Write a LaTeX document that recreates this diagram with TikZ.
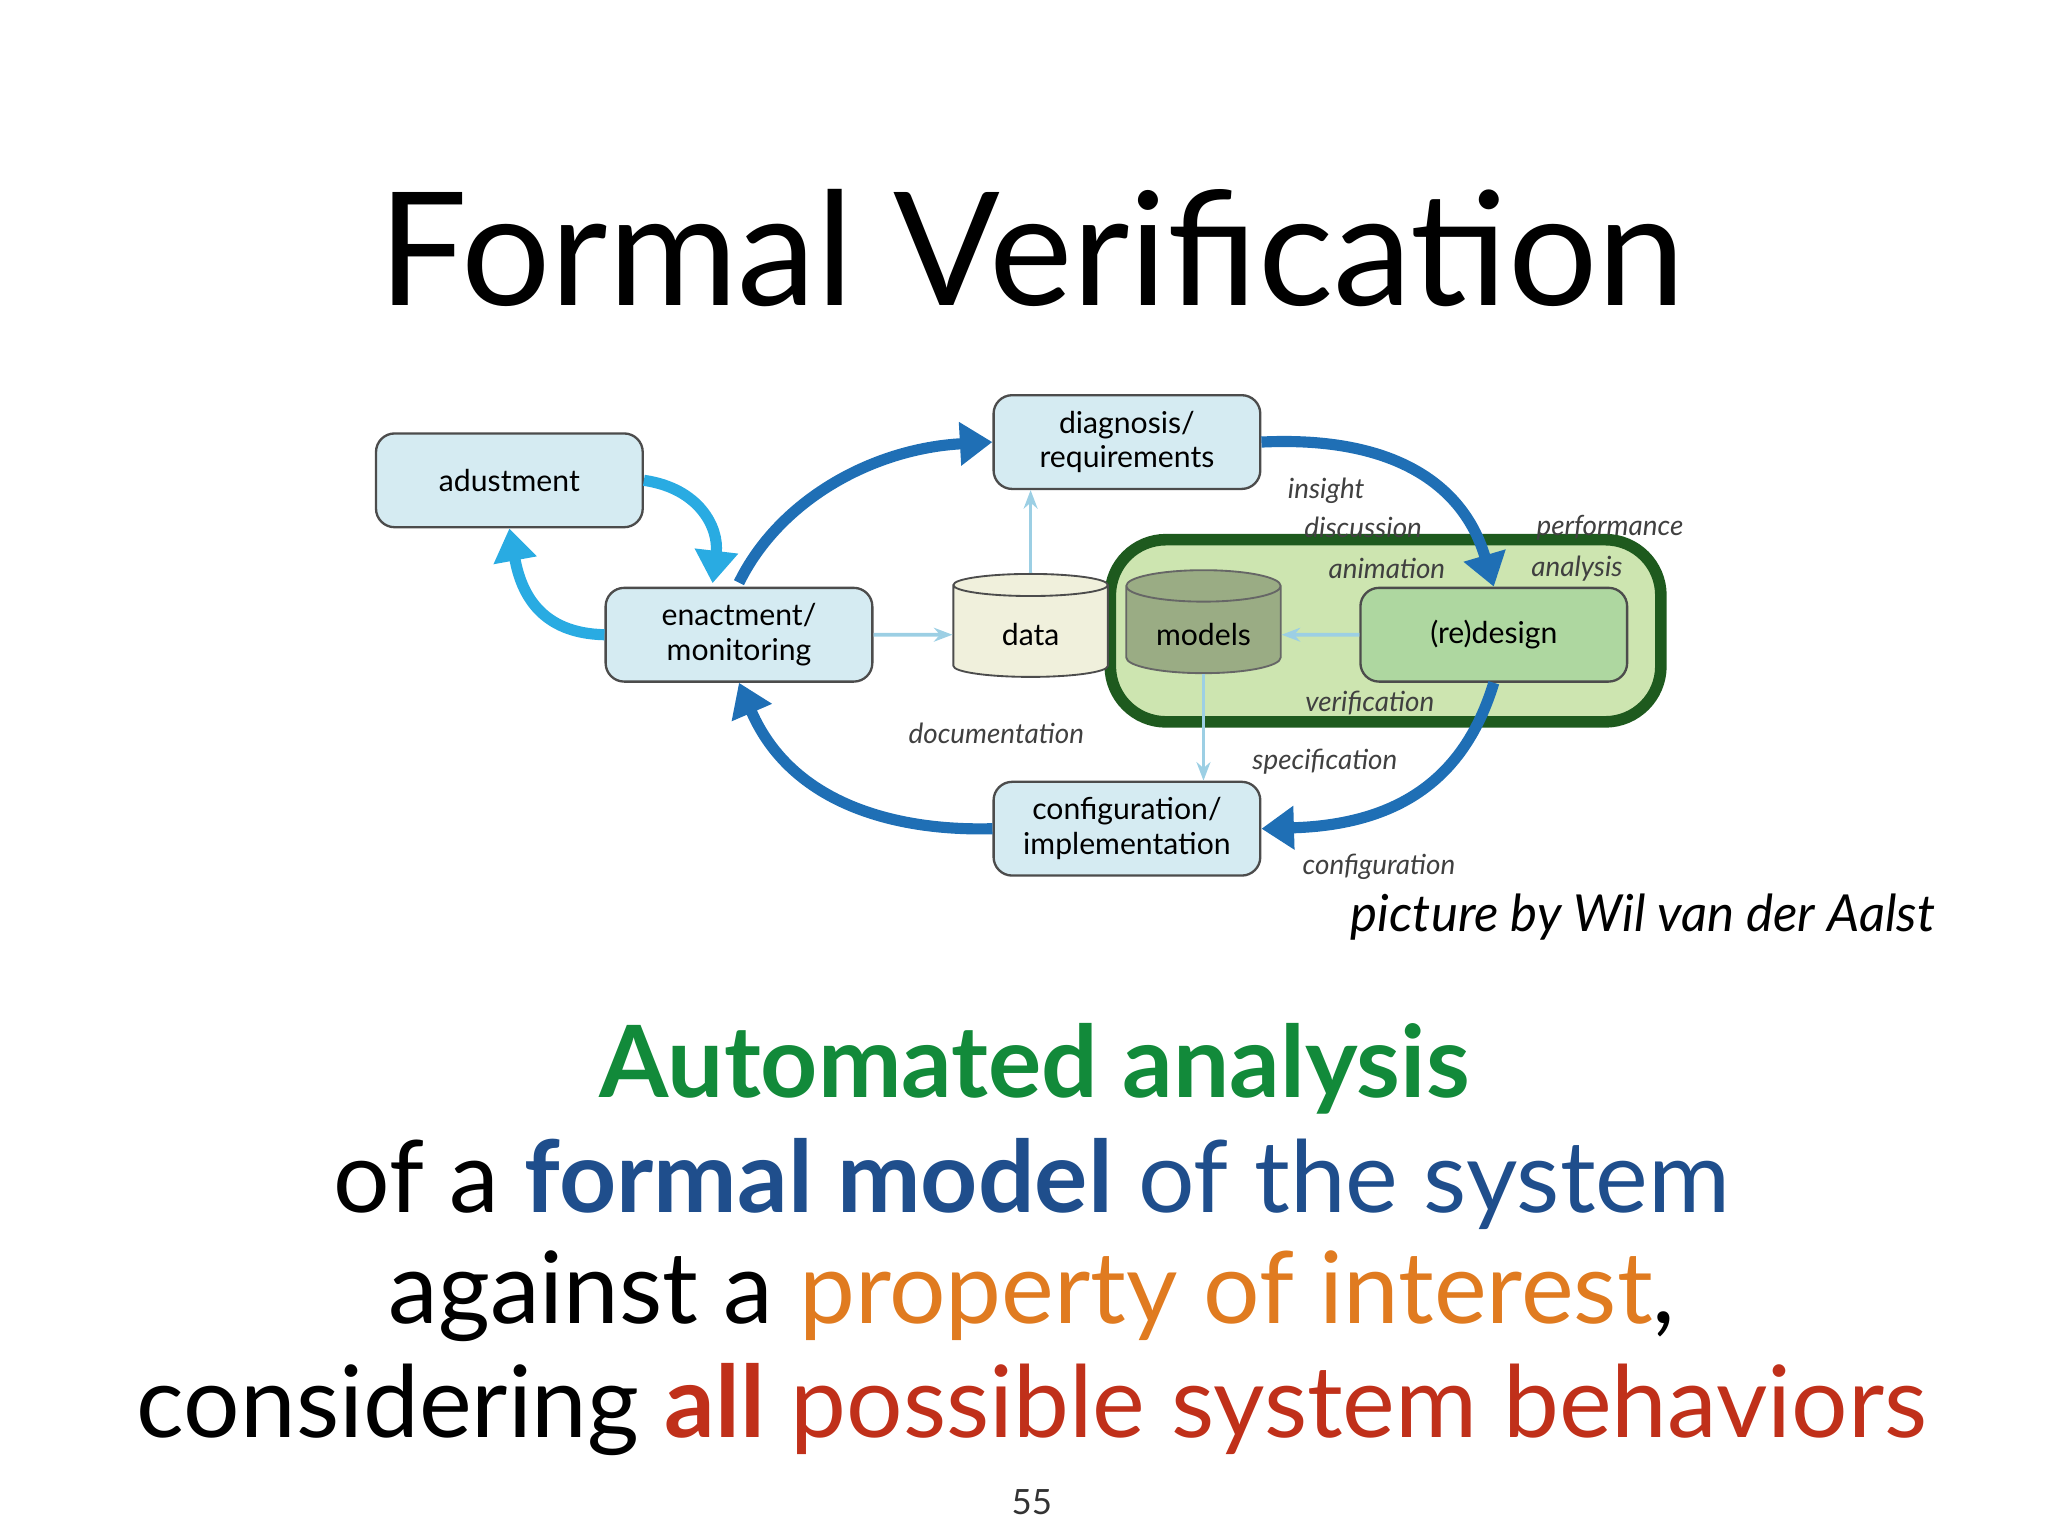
\documentclass[tikz,border=0pt]{standalone}
\usepackage{fontspec}
\setmainfont{Lato}
\usetikzlibrary{shapes.geometric,arrows.meta}
\definecolor{boxfill}{HTML}{D5EBF2}
\definecolor{bigblue}{HTML}{1F6FB5}
\definecolor{ltblue}{HTML}{29ABE2}
\definecolor{thinblue}{HTML}{9CCFE4}
\definecolor{cylfill}{HTML}{F0F0DC}
\definecolor{hlfill}{HTML}{CDE5B0}
\definecolor{rdfill}{HTML}{AED7A0}
\definecolor{hlborder}{HTML}{1E5A1E}
\definecolor{tgreen}{HTML}{128A3A}
\definecolor{tblue}{HTML}{1F4E8C}
\definecolor{torange}{HTML}{E07B20}
\definecolor{tred}{HTML}{C0301A}
\tikzset{
  procbox/.style={draw=black!70,fill=boxfill,rounded corners=4pt,minimum width=2.02cm,minimum height=0.71cm,align=center,font=\fontsize{6.5}{7.5}\selectfont,line width=0.5pt},
  store/.style={draw=black!70,fill=cylfill,cylinder,shape border rotate=90,aspect=0.25,minimum width=1.17cm,minimum height=0.78cm,font=\fontsize{6.5}{7.5}\selectfont},
  lbl/.style={font=\itshape\fontsize{6}{7}\selectfont,text=black!75},
  bigarrow/.style={bigblue,line width=2.4pt,-{Triangle[length=7pt,width=9pt]}},
  ltarrow/.style={ltblue,line width=2.4pt,-{Triangle[length=7pt,width=9pt]}},
  thinarrow/.style={thinblue,line width=0.8pt,-{Stealth[length=4pt]}}
}
\begin{document}
\begin{tikzpicture}[x=0.01cm,y=-0.01cm]
\useasboundingbox (0,0) rectangle (1552,1164);
\node[font=\fontsize{34}{36}\selectfont] (title) at (782,188) {Formal Verification};
% highlight
\node[draw=hlborder,line width=2.5pt,fill=hlfill,rounded corners=12pt,minimum width=4.17cm,minimum height=1.38cm] (hl) at (1050,478) {};
\node[procbox] (adj) at (386,364) {adustment};
\node[procbox] (diag) at (854,335) {diagnosis/\\requirements};
\node[procbox] (enact) at (560,481) {enactment/\\monitoring};
\node[store] (data) at (781,481) {data};
\node[store,fill=black!25!hlfill,draw=black!60] (models) at (912,481) {models};
\node[procbox,fill=rdfill] (redesign) at (1132,481) {(re)design};
\node[procbox] (conf) at (854,628) {configuration/\\implementation};
% arrows
\draw[bigarrow] (enact.north) ++(0,-3) .. controls (590,380) and (660,340) .. (diag.west);
\draw[bigarrow] (diag.east) .. controls (1060,330) and (1110,370) .. (redesign.north);
\draw[bigarrow] (redesign.south) .. controls (1110,590) and (1060,625) .. (conf.east);
\draw[bigarrow] (conf.west) .. controls (680,630) and (600,610) .. (enact.south);
\draw[ltarrow] (adj.east) .. controls (530,370) and (545,400) .. (540,442);
\draw[ltarrow] (enact.west) .. controls (410,480) and (395,450) .. (adj.south);
\draw[thinarrow] (enact.east) -- (data.west);
\draw[thinarrow] (data.north) -- (diag.south -| data.north);
\draw[thinarrow] (redesign.west) -- (models.east);
\draw[thinarrow] (models.south) -- (conf.north -| models.south);
% labels
\node[lbl] (l1) at (1005,372) {insight};
\node[lbl] (l2) at (1033,400) {discussion};
\node[lbl] (l3) at (1220,400) {performance};
\node[lbl] (l4) at (1051,431) {animation};
\node[lbl] (l5) at (1195,431) {analysis};
\node[lbl] (l6) at (1038,533) {verification};
\node[lbl] (l7) at (755,556) {documentation};
\node[lbl] (l8) at (1004,577) {specification};
\node[lbl] (l9) at (1045,657) {configuration};
\node[font=\itshape\fontsize{11}{12}\selectfont] (credit) at (1245,695) {picture by Wil van der Aalst};
% text
\node[font=\bfseries\fontsize{21.5}{24}\selectfont,text=tgreen] (t1) at (784,810) {Automated analysis};
\node[font=\fontsize{21.5}{24}\selectfont] (t2) at (782,897) {of a \textcolor{tblue}{\bfseries formal model} \textcolor{tblue}{of the system}};
\node[font=\fontsize{21.5}{24}\selectfont] (t3) at (782,982) {against a \textcolor{torange}{property of interest},};
\node[font=\fontsize{21.5}{24}\selectfont] (t4) at (782,1068) {considering \textcolor{tred}{\bfseries all} \textcolor{tred}{possible system behaviors}};
\node[font=\fontsize{7.5}{9}\selectfont,text=black!80] (pg) at (782,1138) {55};
\end{tikzpicture}
\end{document}
